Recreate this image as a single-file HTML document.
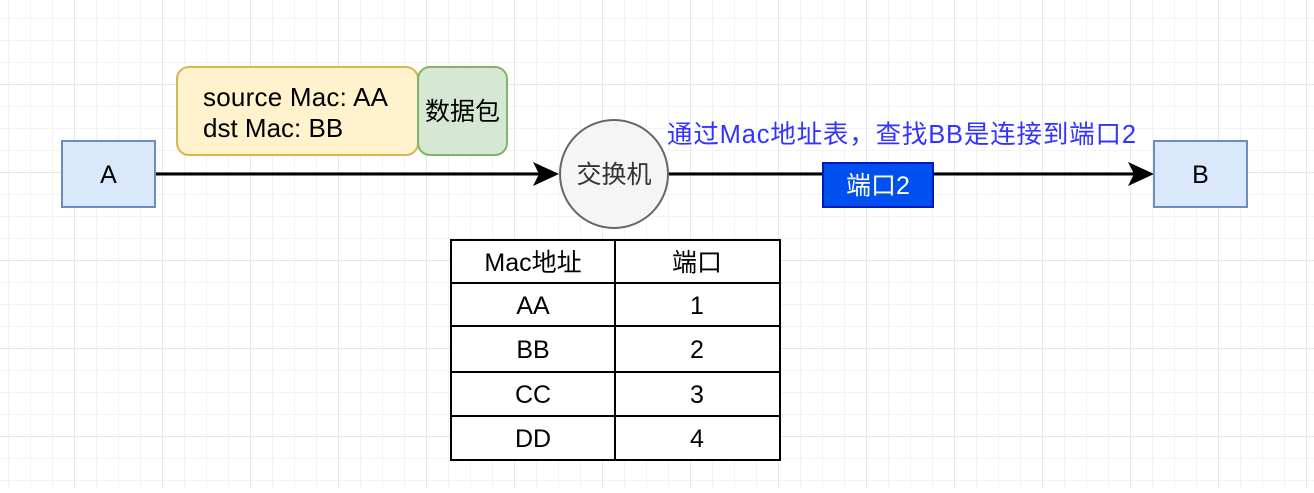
<!DOCTYPE html>
<html><head><meta charset="utf-8"><style>
body{margin:0;width:1314px;height:488px;overflow:hidden;background:#fff;}
</style></head><body>
<svg width="1314" height="488" xmlns="http://www.w3.org/2000/svg" font-family="Liberation Sans, Noto Sans CJK SC, sans-serif">
<defs>
<pattern id="g" x="8" y="18" width="22" height="22" patternUnits="userSpaceOnUse"><path d="M0 0H22M0 0V22" stroke="#efefef" stroke-width="1.5" fill="none"/></pattern>
<pattern id="G" x="74" y="84" width="88" height="88" patternUnits="userSpaceOnUse"><path d="M0 0H88M0 0V88" stroke="#d6d6d6" stroke-width="1" fill="none"/></pattern>
</defs>
<rect width="1314" height="488" fill="url(#g)"/>
<rect width="1314" height="488" fill="url(#G)"/>
<line x1="155" y1="174" x2="540" y2="174" stroke="#000" stroke-width="3"/>
<polygon points="559,174 533,162 539,174 533,186" fill="#000"/>
<line x1="669" y1="174" x2="1135" y2="174" stroke="#000" stroke-width="3"/>
<polygon points="1154,174 1128,162 1134,174 1128,186" fill="#000"/>
<rect x="62" y="141" width="93" height="66" fill="#dae8fc" stroke="#6c8ebf" stroke-width="2"/>
<text x="108.5" y="183" font-size="25" text-anchor="middle">A</text>
<rect x="1154" y="141" width="93" height="66" fill="#dae8fc" stroke="#6c8ebf" stroke-width="2"/>
<text x="1200.5" y="183" font-size="25" text-anchor="middle">B</text>
<rect x="177" y="67" width="241" height="88" rx="12" fill="#fff2cc" stroke="#d6b656" stroke-width="2"/>
<text x="203" y="106" font-size="26" textLength="185">source Mac: AA</text>
<text x="203" y="137" font-size="26">dst Mac: BB</text>
<rect x="418" y="67" width="89" height="88" rx="12" fill="#d5e8d4" stroke="#82b366" stroke-width="2"/>
<text x="462.5" y="120" font-size="25" text-anchor="middle">数据包</text>
<circle cx="614" cy="174" r="54" fill="#f5f5f5" stroke="#666" stroke-width="2"/>
<text x="614" y="183" font-size="25" text-anchor="middle" fill="#333">交换机</text>
<text x="667" y="143" font-size="25.5" fill="#3333ff" textLength="469">通过Mac地址表，查找BB是连接到端口2</text>
<rect x="823" y="163" width="110" height="44" fill="#0050ef" stroke="#001dbc" stroke-width="2"/>
<text x="878" y="194" font-size="25" text-anchor="middle" fill="#fff">端口2</text>
<g stroke="#000" stroke-width="2" fill="#fff">
<rect x="451" y="240" width="329" height="220"/>
<line x1="615" y1="240" x2="615" y2="460"/>
<line x1="451" y1="283" x2="780" y2="283"/>
<line x1="451" y1="326" x2="780" y2="326"/>
<line x1="451" y1="372" x2="780" y2="372"/>
<line x1="451" y1="416" x2="780" y2="416"/>
</g>
<g font-size="25" text-anchor="middle">
<text x="533" y="271">Mac地址</text><text x="697" y="271">端口</text>
<text x="533" y="314">AA</text><text x="697" y="314">1</text>
<text x="533" y="358">BB</text><text x="697" y="358">2</text>
<text x="533" y="403">CC</text><text x="697" y="403">3</text>
<text x="533" y="447">DD</text><text x="697" y="447">4</text>
</g>
</svg>
</body></html>
